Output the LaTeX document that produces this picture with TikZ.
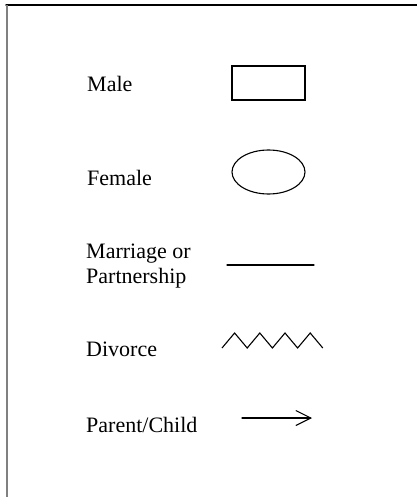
\documentclass[tikz,border=0pt]{standalone}
\usepackage{fontspec}
\setmainfont{Liberation Serif}
\usetikzlibrary{shapes.geometric,arrows.meta}
\begin{document}
\begin{tikzpicture}[x=1pt,y=-1pt,line cap=round]
    \tikzset{
      lbl/.style={anchor=base west,inner sep=0pt,font=\fontsize{22}{25}\selectfont},
      sym/.style={draw,line width=1.1pt},
    }
    \useasboundingbox (0,0) rectangle (416,497);
    % frame
    \draw[line width=1.4pt] (6,5)--(420,5);
    \draw[gray,line width=2pt,line cap=butt] (7,5)--(7,500);
    % labels
    \node[lbl] (male) at (87,92) {Male};
    \node[lbl] (female) at (87,185) {Female};
    \node[lbl] (marr) at (86,258) {Marriage or};
    \node[lbl] (partn) at (86,283) {Partnership};
    \node[lbl] (divorce) at (86,356) {Divorce};
    \node[lbl] (parent) at (86,432) {Parent/Child};
    % symbols
    \node[sym,rectangle,minimum width=73pt,minimum height=34pt,inner sep=0pt] (malebox) at (268.5,83) {};
    \node[sym,ellipse,minimum width=73pt,minimum height=44pt,inner sep=0pt] (femaleoval) at (268.5,172) {};
    \coordinate (marrA) at (227,265); \coordinate (marrB) at (314,265);
    \draw[line width=1.1pt] (marrA)--(marrB);
    \coordinate (divA) at (222,348);
    \draw[line width=1.1pt,line cap=butt,line join=miter] (divA)
      \foreach \k in {0,...,3} {-- ++(12.6,-15) -- ++(12.6,15)};
    \coordinate (arrA) at (242,418); \coordinate (arrB) at (312,418);
    \draw[line width=1.1pt,-{Straight Barb[length=15pt,width=15pt,line width=1.1pt]}] (arrA)--(arrB);
  \end{tikzpicture}
\end{document}
